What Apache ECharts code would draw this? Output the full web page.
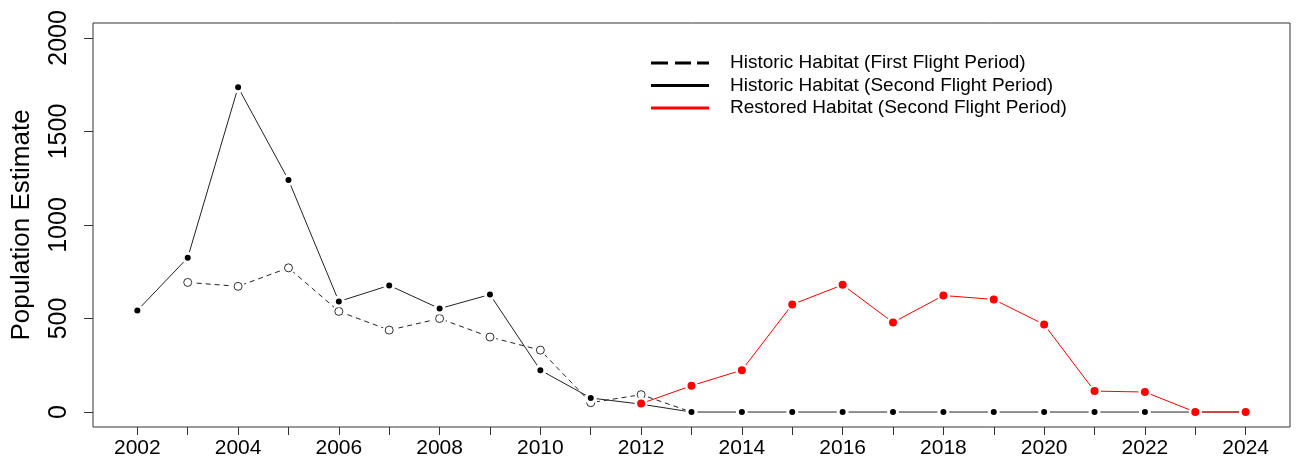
<!DOCTYPE html>
<html>
<head>
<meta charset="utf-8">
<script src="https://cdn.jsdelivr.net/npm/echarts@6/dist/echarts.min.js"></script>
<style>html,body{margin:0;padding:0;background:#fff;}#c{width:1297px;height:469px;}</style>
</head>
<body>
<div id="c"></div>
<script>
const years = [2002,2003,2004,2005,2006,2007,2008,2009,2010,2011,2012,2013,2014,2015,2016,2017,2018,2019,2020,2021,2022,2023,2024];
const xLabelYears = [2002,2004,2006,2008,2010,2012,2014,2016,2018,2020,2022,2024];
const yTicks = [0,500,1000,1500,2000];
const historicFirst = [null,693,672,771,538,438,500,401,331,50,93,0,null,null,null,null,null,null,null,null,null,null,null];
const historicSecond = [543,825,1736,1241,591,677,553,628,224,75,42,0,0,0,0,0,0,0,0,0,0,0,0];
const restoredSecond = [null,null,null,null,null,null,null,null,null,null,45,141,224,575,680,479,623,602,468,112,107,0,0];
const seriesNames = ['Historic Habitat (First Flight Period)','Historic Habitat (Second Flight Period)','Restored Habitat (Second Flight Period)'];

const FONT = '"Liberation Sans", Arial, sans-serif';
function pairs(vals){ return years.map((y,i)=>[y, vals[i]]); }

const chart = echarts.init(document.getElementById('c'), null, {renderer:'canvas'});
const option = {
  animation: false,
  backgroundColor: '#fff',
  grid: {left: 93, right: 7, top: 23, bottom: 42, show: true, borderColor: '#333', borderWidth: 1},
  legend: {
    orient: 'vertical', left: 646, top: 48, itemWidth: 58, itemHeight: 3, itemGap: 2.5,
    textStyle: {fontFamily: FONT, fontSize: 19, color: '#000', padding: [0,0,0,16], lineHeight: 20},
    data: [
      {name: seriesNames[0], icon: 'path://M0,0H17V3H0Z M24,0H40V3H24Z M46,0H58V3H46Z', itemStyle: {color: '#000', borderWidth: 0}},
      {name: seriesNames[1], icon: 'rect', itemStyle: {color: '#000', borderWidth: 0}},
      {name: seriesNames[2], icon: 'rect', itemStyle: {color: '#ff0000', borderWidth: 0}}
    ]
  },
  xAxis: {
    type: 'value', min: 2001.12, max: 2024.88,
    splitLine: {show: false}, axisLine: {show: false, onZero: false},
    axisTick: {show: true, length: 8, customValues: years, lineStyle: {color: '#333'}},
    axisLabel: {customValues: xLabelYears, color: '#000', fontFamily: FONT, fontSize: 21, margin: 11, formatter: v => String(v)}
  },
  yAxis: {
    type: 'value', min: -80, max: 2080,
    splitLine: {show: false}, axisLine: {show: false, onZero: false},
    axisTick: {show: true, length: 9, customValues: yTicks, lineStyle: {color: '#333'}},
    axisLabel: {customValues: yTicks, rotate: 90, color: '#000', fontFamily: FONT, fontSize: 25, margin: 21, formatter: v => String(v)},
    name: 'Population Estimate', nameLocation: 'middle', nameGap: 58, nameRotate: 90,
    nameTextStyle: {fontFamily: FONT, fontSize: 26, color: '#000'}
  },
  series: [
    {
      name: seriesNames[0], type: 'line', data: pairs(historicFirst), z: 2,
      lineStyle: {color: '#222', width: 1, type: [5,4]},
      symbol: 'circle', symbolSize: 11, itemStyle: {color: '#fff', borderColor: '#fff', borderWidth: 2}
    },
    {
      type: 'scatter', data: pairs(historicFirst), symbol: 'circle', symbolSize: 8, z: 6,
      itemStyle: {color: '#fff', borderColor: '#000', borderWidth: 1}, silent: true
    },
    {
      name: seriesNames[1], type: 'line', data: pairs(historicSecond), z: 7,
      lineStyle: {color: '#222', width: 1},
      symbol: 'circle', symbolSize: 9, itemStyle: {color: '#000', borderColor: '#fff', borderWidth: 3}
    },
    {
      name: seriesNames[2], type: 'line', data: pairs(restoredSecond), z: 8,
      lineStyle: {color: '#ff0000', width: 1},
      symbol: 'circle', symbolSize: 10.5, itemStyle: {color: '#ff0000', borderColor: '#fff', borderWidth: 2.5}
    }
  ]
};
chart.setOption(option);
</script>
</body>
</html>
